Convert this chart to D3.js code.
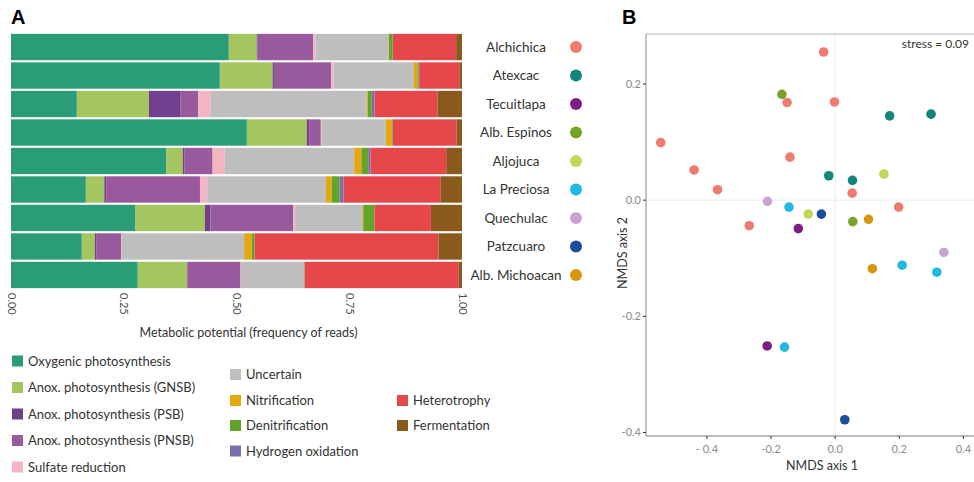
<!DOCTYPE html>
<html><head><meta charset="utf-8">
<script src="https://cdn.jsdelivr.net/npm/d3@7"></script>
<style>
body{margin:0;background:#fff;}
svg{display:block;font-family:Lato,"Open Sans",sans-serif;}
</style></head>
<body><svg id="c" width="974" height="482"></svg>
<script>
// ---- Panel A data ----
const lakes = ["Alchichica","Atexcac","Tecuitlapa","Alb. Espinos","Aljojuca","La Preciosa","Quechulac","Patzcuaro","Alb. Michoacan"];
const lakeColors = ["#EF7B6E","#13857B","#7A1F80","#78A32A","#C6D45A","#22B8DF","#C9A6D2","#1E4C9C","#D9960F"];
const functions = ["Oxygenic photosynthesis","Anox. photosynthesis (GNSB)","Anox. photosynthesis (PSB)","Anox. photosynthesis (PNSB)","Sulfate reduction","Uncertain","Nitrification","Denitrification","Hydrogen oxidation","Heterotrophy","Fermentation"];
const funcColors = ["#2A9D78","#A3C660","#723E8E","#985A9C","#F4B4C1","#BEBEBE","#E4A80E","#63A329","#7770AE","#E5474B","#8A5A1C"];
// fraction of reads, one array per function, in lake order
const oxygenic   = [0.483,0.463,0.146,0.523,0.344,0.166,0.275,0.157,0.281];
const gnsb       = [0.062,0.117,0.160,0.133,0.037,0.041,0.155,0.029,0.109];
const psb        = [0.002,0.003,0.069,0.005,0.004,0.004,0.012,0.004,0.001];
const pnsb       = [0.123,0.127,0.040,0.026,0.062,0.208,0.184,0.054,0.118];
const sulfate    = [0.005,0.005,0.027,0.002,0.027,0.016,0.004,0.002,0.001];
const uncertain  = [0.162,0.178,0.347,0.142,0.287,0.263,0.149,0.271,0.140];
const nitrif     = [0.001,0.008,0.002,0.014,0.016,0.013,0.002,0.017,0.000];
const denitrif   = [0.008,0.003,0.009,0.001,0.015,0.017,0.025,0.006,0.001];
const hydrogen   = [0.001,0.001,0.006,0.001,0.005,0.009,0.000,0.000,0.000];
const hetero     = [0.140,0.089,0.140,0.141,0.168,0.215,0.125,0.408,0.341];
const ferment    = [0.013,0.006,0.054,0.012,0.035,0.048,0.069,0.052,0.008];
const seriesVals = [oxygenic,gnsb,psb,pnsb,sulfate,uncertain,nitrif,denitrif,hydrogen,hetero,ferment];
const xTicksA = [0,0.25,0.5,0.75,1];

// ---- Panel B data (NMDS) ----
const nmdsLake = ["Alchichica","Alchichica","Alchichica","Alchichica","Alchichica","Alchichica","Alchichica","Alchichica","Alchichica","Alchichica",
  "Atexcac","Atexcac","Atexcac","Atexcac","Tecuitlapa","Tecuitlapa","Alb. Espinos","Alb. Espinos","Aljojuca","Aljojuca",
  "La Preciosa","La Preciosa","La Preciosa","La Preciosa","Quechulac","Quechulac","Patzcuaro","Patzcuaro","Alb. Michoacan","Alb. Michoacan"];
const nmds1 = [-0.036,-0.150,-0.002,-0.544,-0.440,-0.367,-0.141,0.053,0.198,-0.268,
  0.170,0.299,-0.020,0.054,-0.115,-0.212,-0.166,0.055,0.152,-0.084,
  -0.144,0.209,0.317,-0.158,-0.211,0.339,-0.043,0.030,0.104,0.116];
const nmds2 = [0.255,0.168,0.169,0.099,0.052,0.018,0.074,0.012,-0.012,-0.044,
  0.145,0.148,0.042,0.034,-0.049,-0.251,0.182,-0.037,0.045,-0.024,
  -0.012,-0.112,-0.124,-0.253,-0.002,-0.090,-0.024,-0.378,-0.033,-0.118];
const xTicksB = [-0.4,-0.2,0,0.2,0.4];
const xTickLabelsB = ["- 0.4","-0.2","0.0","0.2","0.4"];
const yTicksB = [0.2,0,-0.2,-0.4];
const yTickLabelsB = ["0.2","0.0","-0.2","-0.4"];

const svg = d3.select("#c");

// ===== Panel A =====
svg.append("text").attr("x",11).attr("y",24).attr("font-size",20).attr("font-weight","bold")
  .attr("font-family","Liberation Sans, Arial, sans-serif").text("A");

const xA = d3.scaleLinear().domain([0,1]).range([11,462]);
const yA = d3.scaleBand().domain(lakes).range([33,289]).paddingInner(0.075).paddingOuter(0.03);

const stack = lakes.map((l,i)=>{
  let acc=0; const segs=[];
  functions.forEach((f,j)=>{ const v=seriesVals[j][i]; segs.push({lake:l,f:j,x0:acc,x1:acc+v}); acc+=v; });
  const tot=acc; segs.forEach(s=>{s.x0/=tot;s.x1/=tot;});
  return segs;
});
const gA = svg.append("g");
stack.forEach(segs=>{
  gA.selectAll(null).data(segs).enter().append("rect")
    .attr("x",d=>xA(d.x0)).attr("width",d=>Math.max(0,xA(d.x1)-xA(d.x0)))
    .attr("y",d=>yA(d.lake)).attr("height",yA.bandwidth())
    .attr("fill",d=>funcColors[d.f]);
});
// x tick labels rotated
gA.selectAll(".xt").data(xTicksA).enter().append("text")
  .attr("transform",d=>`translate(${xA(d)-3.5},293) rotate(90)`)
  .attr("font-size",11).attr("fill","#4d4d4d")
  .text(d=>d3.format(".2f")(d));
svg.append("text").attr("x",xA(0.5)+12).attr("y",337).attr("text-anchor","middle")
  .attr("font-size",12.5).attr("fill","#333").text("Metabolic potential (frequency of reads)");

// lake labels + dots
const gL = svg.append("g");
lakes.forEach((l,i)=>{
  const cy = yA(l)+yA.bandwidth()/2;
  gL.append("text").attr("x",516).attr("y",cy).attr("dy","0.35em").attr("text-anchor","middle")
    .attr("font-size",13.5).attr("fill","#333").text(l);
  gL.append("circle").attr("cx",576).attr("cy",cy).attr("r",6).attr("fill",lakeColors[i]);
});

// legend
const legPos = [
  [12,361],[12,387.5],[12,414],[12,440.5],[12,467],
  [230,374.5],[230,400.5],[230,425.5],[230,451],
  [397,400.5],[397,425.5]
];
const gLeg = svg.append("g");
functions.forEach((f,j)=>{
  const [x,y]=legPos[j];
  gLeg.append("rect").attr("x",x).attr("y",y-5.5).attr("width",11).attr("height",11).attr("fill",funcColors[j]);
  gLeg.append("text").attr("x",x+16).attr("y",y).attr("dy","0.35em").attr("font-size",13).attr("fill","#333").text(f);
});

// ===== Panel B =====
svg.append("text").attr("x",622).attr("y",24).attr("font-size",20).attr("font-weight","bold")
  .attr("font-family","Liberation Sans, Arial, sans-serif").text("B");
const xB = d3.scaleLinear().domain([-0.59,0.433]).range([646,974]);
const yB = d3.scaleLinear().domain([-0.406,0.286]).range([436,34]);
const gB = svg.append("g");
// zero grid lines
gB.append("line").attr("x1",xB(0)).attr("x2",xB(0)).attr("y1",34).attr("y2",436).attr("stroke","#ececec").attr("stroke-width",1);
gB.append("line").attr("x1",646).attr("x2",974).attr("y1",yB(0)).attr("y2",yB(0)).attr("stroke","#ececec").attr("stroke-width",1);
// frame
gB.append("line").attr("x1",646).attr("x2",974).attr("y1",34).attr("y2",34).attr("stroke","#b3b3b3").attr("stroke-width",1);
gB.append("line").attr("x1",646).attr("x2",646).attr("y1",34).attr("y2",436).attr("stroke","#a6a6a6").attr("stroke-width",1.3);
gB.append("line").attr("x1",646).attr("x2",974).attr("y1",436).attr("y2",436).attr("stroke","#a6a6a6").attr("stroke-width",1.3);
// ticks
xTicksB.forEach((t,i)=>{
  gB.append("line").attr("x1",xB(t)).attr("x2",xB(t)).attr("y1",436).attr("y2",439).attr("stroke","#333");
  gB.append("text").attr("x",xB(t)).attr("y",449).attr("dy","0.35em").attr("text-anchor","middle")
    .attr("font-size",11).attr("fill","#8a8a8a").text(xTickLabelsB[i]);
});
yTicksB.forEach((t,i)=>{
  gB.append("line").attr("x1",643).attr("x2",646).attr("y1",yB(t)).attr("y2",yB(t)).attr("stroke","#333");
  gB.append("text").attr("x",641).attr("y",yB(t)).attr("dy","0.35em").attr("text-anchor","end")
    .attr("font-size",11).attr("fill","#8a8a8a").text(yTickLabelsB[i]);
});
svg.append("text").attr("x",822).attr("y",470).attr("text-anchor","middle").attr("font-size",12.5).attr("fill","#333").text("NMDS axis 1");
svg.append("text").attr("transform",`translate(627,253) rotate(-90)`).attr("text-anchor","middle")
  .attr("font-size",12.5).attr("fill","#333").text("NMDS axis 2");
svg.append("text").attr("x",969).attr("y",44).attr("dy","0.35em").attr("text-anchor","end").attr("font-size",12).attr("fill","#333").text("stress = 0.09");
// points
const pts = nmds1.map((v,i)=>({x:v,y:nmds2[i],lake:nmdsLake[i]}));
gB.selectAll("circle").data(pts).enter().append("circle")
  .attr("cx",d=>xB(d.x)).attr("cy",d=>yB(d.y)).attr("r",4.8)
  .attr("fill",d=>lakeColors[lakes.indexOf(d.lake)]);
</script></body></html>
